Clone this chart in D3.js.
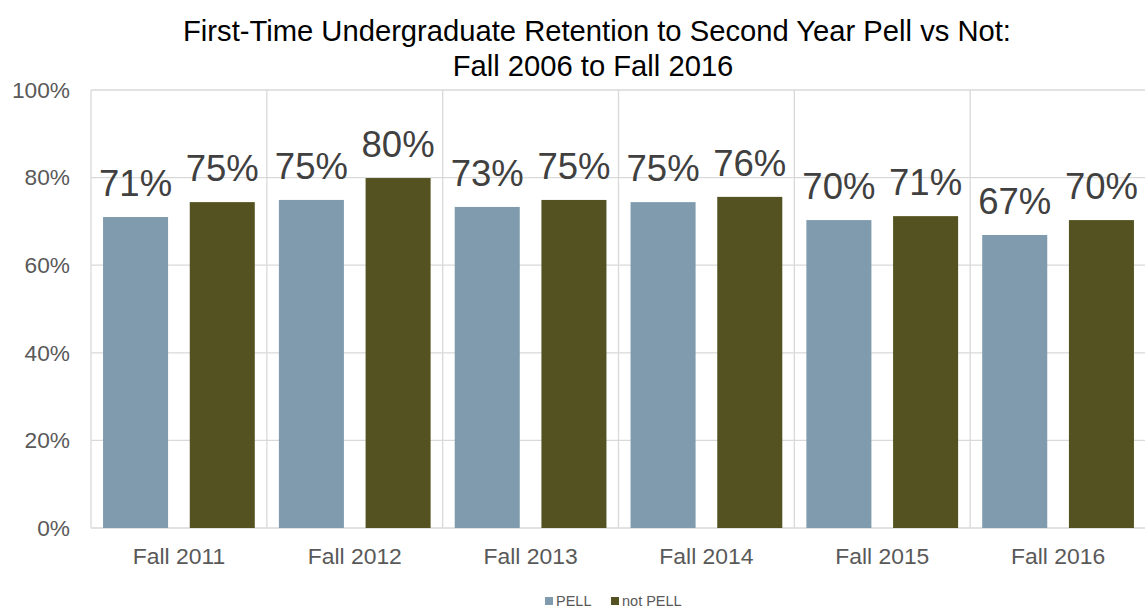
<!DOCTYPE html>
<html><head><meta charset="utf-8">
<script src="https://cdn.jsdelivr.net/npm/d3@7"></script>
<style>body{margin:0;background:#fff}svg{display:block;font-family:"Liberation Sans",Arial,sans-serif}</style>
</head><body><svg id="c" width="1145" height="609"></svg>
<script>
const categories = ["Fall 2011","Fall 2012","Fall 2013","Fall 2014","Fall 2015","Fall 2016"];
const seriesNames = ["PELL","not PELL"];
const pell = [0.71,0.749,0.733,0.744,0.703,0.669];
const notPell = [0.744,0.799,0.749,0.756,0.712,0.703];
const pellLabels = ["71%","75%","73%","75%","70%","67%"];
const notPellLabels = ["75%","80%","75%","76%","71%","70%"];
const yTicks = [0,0.2,0.4,0.6,0.8,1.0];
const colors = ["#7f9bad","#535220"];

const svg = d3.select("#c");
const L=91, R=1146, T=90, B=528;
const x0 = d3.scaleBand().domain(categories).range([L,R]).padding(0);
const x1 = d3.scaleBand().domain(seriesNames).range([0,x0.bandwidth()]).paddingInner(0.25).paddingOuter(0.139);
const y = d3.scaleLinear().domain([0,1]).range([B,T]);

// gridlines
const g = svg.append("g");
g.selectAll("line.h").data(yTicks).join("line")
  .attr("x1",L).attr("x2",R).attr("y1",d=>y(d)).attr("y2",d=>y(d))
  .attr("stroke","#d9d9d9").attr("stroke-width",1.3);
const bounds = categories.map(c=>x0(c)).concat([R]);
g.selectAll("line.v").data(bounds).join("line")
  .attr("x1",d=>d).attr("x2",d=>d).attr("y1",T).attr("y2",B)
  .attr("stroke","#d9d9d9").attr("stroke-width",1.3);

// y axis labels
const yAxis = d3.axisLeft(y).tickValues(yTicks).tickFormat(d3.format(".0%")).tickSize(0).tickPadding(21);
const ya = svg.append("g").attr("transform",`translate(${L},0)`).call(yAxis);
ya.select(".domain").remove();
ya.selectAll("text").attr("font-size",22.7).attr("fill","#595959").attr("font-family","Liberation Sans, Arial, sans-serif");

// x axis labels
const xAxis = d3.axisBottom(x0).tickSize(0).tickPadding(20);
const xa = svg.append("g").attr("transform",`translate(0,${B})`).call(xAxis);
xa.select(".domain").remove();
xa.selectAll("text").attr("font-size",22.9).attr("fill","#595959").attr("font-family","Liberation Sans, Arial, sans-serif");

const series = [pell, notPell];
const labels = [pellLabels, notPellLabels];
series.forEach((vals,si)=>{
  const grp = svg.append("g");
  grp.selectAll("rect").data(vals).join("rect")
    .attr("x",(d,i)=>x0(categories[i])+x1(seriesNames[si]))
    .attr("width",x1.bandwidth())
    .attr("y",d=>y(d)).attr("height",d=>B-y(d))
    .attr("fill",colors[si]);
  grp.selectAll("text").data(vals).join("text")
    .attr("x",(d,i)=>x0(categories[i])+x1(seriesNames[si])+x1.bandwidth()/2)
    .attr("y",d=>y(d)-21)
    .attr("text-anchor","middle").attr("font-size",36.5).attr("fill","#404040")
    .text((d,i)=>labels[si][i]);
});

// title
const title = svg.append("text").attr("text-anchor","middle").attr("font-size",29.2).attr("fill","#000");
title.append("tspan").attr("x",597).attr("y",41).text("First-Time Undergraduate Retention to Second Year Pell vs Not:");
title.append("tspan").attr("x",593).attr("y",76).text("Fall 2006 to Fall 2016");

// legend
const leg = svg.append("g");
const legItems = [{n:"PELL",x:545},{n:"not PELL",x:611}];
legItems.forEach((it,i)=>{
  leg.append("rect").attr("x",it.x).attr("y",597).attr("width",8).attr("height",8).attr("fill",colors[i]);
  leg.append("text").attr("x",it.x+11).attr("y",606).attr("font-size",14.5).attr("fill","#595959").text(it.n);
});
</script></body></html>
